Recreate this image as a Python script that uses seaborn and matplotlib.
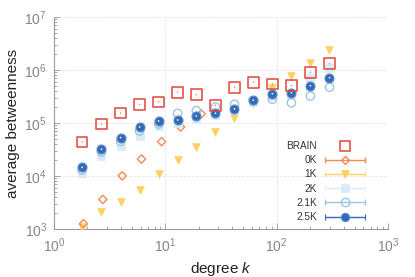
import numpy as np
import pandas as pd
import matplotlib
matplotlib.use("Agg")
import matplotlib.pyplot as plt
import seaborn as sns
from matplotlib.lines import Line2D
from matplotlib.legend_handler import HandlerErrorbar
from matplotlib.container import ErrorbarContainer
from matplotlib.ticker import LogLocator

# ---------------- data ----------------
degree = [1.79, 2.67, 3.96, 5.87, 8.7, 12.9, 19.0, 28.2, 41.8, 61.7, 91.5, 135.6, 201, 298]
degree_0k = [1.84, 2.75, 4.10, 6.11, 9.26, 13.7, 21.0]
brain = [43900, 95700, 154000, 225000, 249000, 379000, 342000, 216000,
         472000, 587000, 544000, 505000, 906000, 1310000]
bt_0k = [1260, 3630, 10100, 20900, 44400, 84100, 148000]
bt_1k = [1077, 2065, 3270, 5440, 10900, 20000, 35200, 66800, 121600,
         233000, 452000, 771000, 1340000, 2380000]
bt_2k = [11400, 23800, 36800, 58000, 85900, 100000, 119000, 141000,
         176000, 249000, 324000, 352000, 697000, 1080000]
bt_21k = [13000, 28400, 44800, 70600, 95700, 152000, 171000, 200000,
          225000, 260000, 280000, 240000, 323000, 472000]
bt_25k = [14600, 32100, 53200, 84100, 109000, 114000, 136000, 153000,
          185000, 269000, 357000, 371000, 505000, 716000]

labels = ["BRAIN", "0K", "1K", "2K", "2.1K", "2.5K"]

# ---------------- style ----------------
sns.set_theme(style="white")
plt.rcParams["font.family"] = ["Liberation Sans", "DejaVu Sans"]
plt.rcParams["mathtext.fontset"] = "custom"
plt.rcParams["mathtext.rm"] = "Liberation Sans"
plt.rcParams["mathtext.it"] = "Liberation Sans:italic"

c_brain = "#e2453c"
c_0k = "#f58a55"
c_1k = "#fcd062"
c_2k = "#d8ebf6"
c_21k = "#9dc6e2"
c_25k = "#3569b3"

fig = plt.figure(figsize=(4.15, 2.77), dpi=100)
ax = fig.add_axes([0.130, 0.173, 0.805, 0.766])

df_main = pd.DataFrame({"k": degree, "brain": brain, "1K": bt_1k, "2K": bt_2k,
                        "2.1K": bt_21k, "2.5K": bt_25k})
df_0k = pd.DataFrame({"k": degree_0k, "0K": bt_0k})

sns.scatterplot(data=df_main, x="k", y="1K", marker="v", s=30, color=c_1k,
                edgecolor=c_1k, linewidth=0.5, ax=ax, legend=False, zorder=3)
sns.scatterplot(data=df_0k, x="k", y="0K", marker="D", s=18, facecolor="none",
                edgecolor=c_0k, linewidth=1.0, ax=ax, legend=False, zorder=3)
sns.scatterplot(data=df_main, x="k", y="2K", marker="s", s=40, color=c_2k,
                edgecolor=c_2k, linewidth=0.5, ax=ax, legend=False, zorder=4)
sns.scatterplot(data=df_main, x="k", y="2.1K", marker="o", s=36, facecolor="none",
                edgecolor=c_21k, linewidth=1.0, ax=ax, legend=False, zorder=4)
sns.scatterplot(data=df_main, x="k", y="2.5K", marker="o", s=42, color=c_25k,
                edgecolor="#5d8fd0", linewidth=0.8, ax=ax, legend=False, zorder=5)
sns.scatterplot(data=df_main, x="k", y="2.5K", marker=".", s=6, color="white",
                edgecolor="none", ax=ax, legend=False, zorder=6)
sns.scatterplot(data=df_main, x="k", y="brain", marker="s", s=60, facecolor="none",
                edgecolor=c_brain, linewidth=1.1, ax=ax, legend=False, zorder=6)
sns.scatterplot(data=df_main, x="k", y="brain", marker=".", s=3, color=c_brain,
                edgecolor="none", ax=ax, legend=False, zorder=6)

ax.set_xscale("log")
ax.set_yscale("log")
ax.set_xlim(1, 1000)
ax.set_ylim(1e3, 1e7)

# grid & spines
ax.grid(True, which="major", ls=(0, (3, 2)), color="#e4e4e4", lw=0.6)
ax.set_axisbelow(True)
for s in ["top", "right"]:
    ax.spines[s].set_visible(False)
for s in ["left", "bottom"]:
    ax.spines[s].set_color("#9a9a9a")
    ax.spines[s].set_linewidth(0.8)

ax.xaxis.set_major_locator(LogLocator(base=10, numticks=10))
ax.yaxis.set_major_locator(LogLocator(base=10, numticks=10))
ax.xaxis.set_minor_locator(LogLocator(base=10, subs=np.arange(2, 10), numticks=20))
ax.yaxis.set_minor_locator(LogLocator(base=10, subs=np.arange(2, 10), numticks=20))
ax.tick_params(which="both", direction="in", color="#9a9a9a", width=0.6,
               top=False, right=False, left=True, bottom=True)
ax.tick_params(which="major", length=4, labelsize=10, labelcolor="#858585", pad=5)
ax.tick_params(which="minor", length=2.2)

ax.set_xlabel("degree $k$", fontsize=11, color="#222222", labelpad=4)
ax.set_ylabel("average betweenness", fontsize=11, color="#222222", labelpad=3)

# legend handles built from empty errorbar containers
def eb(marker, mfc, mec, ms, ecolor, mew=1.0):
    return ax.errorbar([np.nan], [np.nan], xerr=[[1], [1]], fmt=marker, ms=ms,
                       mfc=mfc, mec=mec, mew=mew, ecolor=ecolor, elinewidth=1.0,
                       capsize=2, capthick=1.0)

h_brain = Line2D([], [], marker="s", ls="none", ms=6.5, mfc="none", mec=c_brain, mew=1.1)
h0 = eb("D", "none", c_0k, 4.5, c_0k)
h1 = eb("v", c_1k, c_1k, 5.5, c_1k, 0.5)
h2 = eb("s", c_2k, c_2k, 6, c_2k, 0.5)
h21 = eb("o", "none", c_21k, 6, c_21k)
h25 = eb("o", c_25k, "#5d8fd0", 6, c_25k, 0.8)

leg = ax.legend([h_brain, h0, h1, h2, h21, h25], labels, loc="lower right",
                bbox_to_anchor=(0.955, 0.0), frameon=False, markerfirst=False,
                fontsize=7.2, handlelength=4.1, handletextpad=0.8,
                labelspacing=0.42, borderpad=0.2,
                handler_map={ErrorbarContainer: HandlerErrorbar(xerr_size=2.0)})
for t in leg.get_texts():
    t.set_color("#333333")

fig.savefig("out.png", dpi=100)
